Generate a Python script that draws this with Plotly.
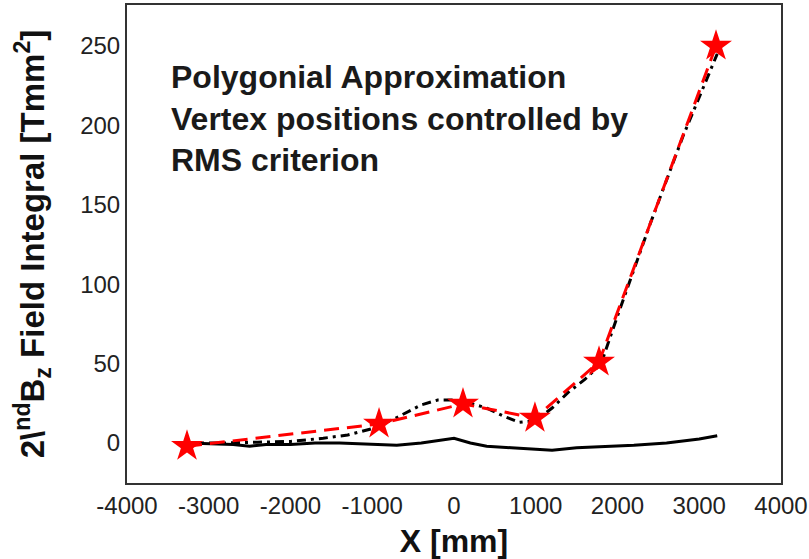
import plotly.graph_objects as go

# Polygon vertices (RMS-controlled)
vertex_x = [-3266, -917, 110, 990, 1774, 3205]
vertex_y = [-2, 12, 24.6, 15.7, 51, 250]

# Measured 2nd field integral (dash-dot)
meas_x = [-3266, -2800, -2400, -2000, -1600, -1300, -1000, -700, -400, -200, 0, 200, 400, 600, 800, 1000, 1200, 1400, 1600, 1800, 2000, 2400, 2800, 3220]
meas_y = [0, 0, 0.5, 1, 3, 5, 9, 16, 24, 27, 27, 25, 22, 17, 13, 14, 22, 32, 40, 50, 80, 138, 193, 245]

# Residual / baseline (solid)
base_x = [-3266, -3000, -2700, -2500, -2300, -2000, -1700, -1400, -1000, -700, -400, -200, 0, 200, 400, 700, 1000, 1200, 1500, 1800, 2200, 2600, 3000, 3220]
base_y = [0, -0.5, -1, -2, -1, -1, 0, 0, -1, -1.5, 0, 1.5, 3, 0, -2, -3, -4, -4.5, -3, -2.5, -1.5, 0, 2.5, 4.5]

x_ticks = [-4000, -3000, -2000, -1000, 0, 1000, 2000, 3000, 4000]
y_ticks = [0, 50, 100, 150, 200, 250]

fig = go.Figure()
fig.add_trace(go.Scatter(x=base_x, y=base_y, mode="lines",
                         line=dict(color="black", width=3), showlegend=False))
fig.add_trace(go.Scatter(x=meas_x, y=meas_y, mode="lines",
                         line=dict(color="black", width=3, dash="9px,5px,3px,5px"), showlegend=False))
fig.add_trace(go.Scatter(x=vertex_x, y=vertex_y, mode="lines+markers",
                         line=dict(color="red", width=3, dash="15px,8px"),
                         marker=dict(symbol="star", size=24, color="red", line=dict(width=0)),
                         showlegend=False))

fig.add_annotation(xref="paper", yref="paper", x=0.064, y=0.892, xanchor="left", yanchor="top",
                   align="left", showarrow=False,
                   text="Polygonial Approximation<br>Vertex positions controlled by<br>RMS criterion",
                   font=dict(family="Liberation Sans, Arial", size=32, color="#1a1a1a", weight="bold"))

axis_common = dict(showline=True, linecolor="#333", linewidth=2, mirror=True,
                   showgrid=False, zeroline=False, ticks="", automargin=False,
                   tickfont=dict(family="Liberation Sans, Arial", size=24, color="#222"))

fig.update_xaxes(range=[-4000, 4000], tickvals=x_ticks, ticktext=[str(v) for v in x_ticks],
                 title=dict(text="X [mm]",
                            font=dict(family="Liberation Sans, Arial", size=32, color="#111", weight="bold"),
                            standoff=12), **axis_common)
fig.update_yaxes(range=[-25.2, 275.8], tickvals=y_ticks, ticktext=[str(v) for v in y_ticks],
                 title=dict(text="2\\<sup>nd</sup>B<sub>z</sub> Field Integral [Tmm<sup>2</sup>]",
                            font=dict(family="Liberation Sans, Arial", size=33, color="#111", weight="bold"),
                            standoff=26),
                 **axis_common)

fig.update_layout(width=809, height=559, template="none",
                  margin=dict(l=127, r=28, t=5, b=76),
                  plot_bgcolor="white", paper_bgcolor="white")

fig.write_html("out.html")
